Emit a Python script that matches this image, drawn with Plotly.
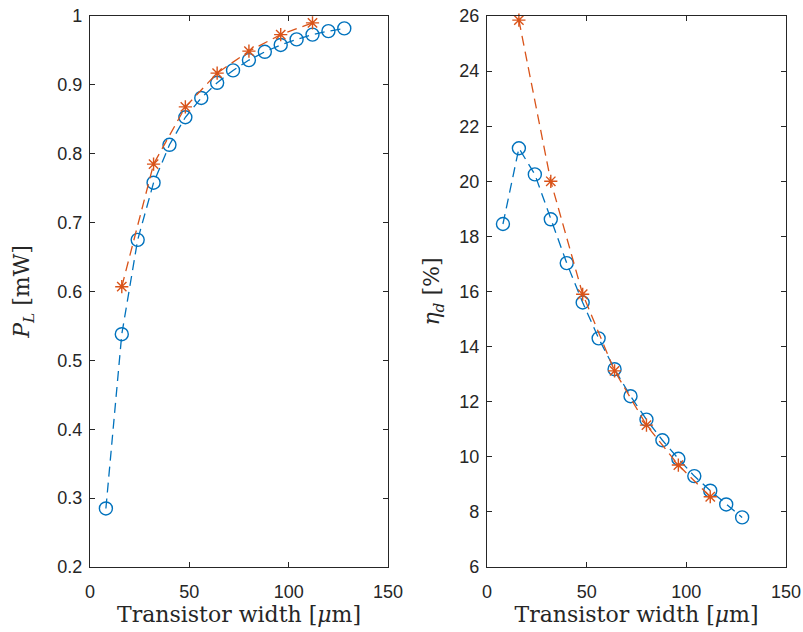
import plotly.graph_objects as go
from plotly.subplots import make_subplots

# Data
width_blue = [8, 16, 24, 32, 40, 48, 56, 64, 72, 80, 88, 96, 104, 112, 120, 128]
pl_blue = [0.285, 0.538, 0.675, 0.758, 0.813, 0.853, 0.881, 0.903, 0.921, 0.936,
           0.948, 0.958, 0.966, 0.973, 0.978, 0.982]
eta_blue = [18.45, 21.2, 20.25, 18.62, 17.03, 15.6, 14.3, 13.18, 12.2, 11.35,
            10.6, 9.93, 9.3, 8.77, 8.27, 7.8]

width_orange = [16, 32, 48, 64, 80, 96, 112]
pl_orange = [0.607, 0.785, 0.868, 0.917, 0.949, 0.973, 0.990]
eta_orange = [25.85, 20.0, 15.9, 13.12, 11.15, 9.7, 8.55]

x_ticks = [0, 50, 100, 150]
pl_ticks = [0.2, 0.3, 0.4, 0.5, 0.6, 0.7, 0.8, 0.9, 1]
pl_ticklabels = ["0.2", "0.3", "0.4", "0.5", "0.6", "0.7", "0.8", "0.9", "1"]
eta_ticks = [6, 8, 10, 12, 14, 16, 18, 20, 22, 24, 26]

BLUE = "#0072BD"
ORANGE = "#D95319"
AXC = "#262626"

fig = make_subplots(rows=1, cols=2)

def add_series(x, y, col, color, symbol, size):
    fig.add_trace(go.Scatter(
        x=x, y=y, mode="lines+markers",
        line=dict(color=color, width=1.3, dash="10px,6px"),
        marker=dict(symbol=symbol, size=size, color=color,
                    line=dict(color=color, width=1.4)),
        showlegend=False, cliponaxis=False), row=1, col=col)

add_series(width_blue, pl_blue, 1, BLUE, "circle-open", 13)
add_series(width_orange, pl_orange, 1, ORANGE, "asterisk-open", 11)
add_series(width_blue, eta_blue, 2, BLUE, "circle-open", 13)
add_series(width_orange, eta_orange, 2, ORANGE, "asterisk-open", 11)

tickfont = dict(family="Liberation Sans, Arial, sans-serif", size=18, color=AXC)
titlefont = dict(family="DejaVu Serif, serif", size=22, color=AXC)

axis_common = dict(
    showgrid=False, zeroline=False, showline=True, linecolor=AXC, linewidth=1.2,
    mirror="ticks", ticks="inside", ticklen=5, tickwidth=1, tickcolor=AXC,
    tickfont=tickfont, automargin=False,
)

fig.update_xaxes(**axis_common, range=[0, 150], tickvals=x_ticks, ticklabelstandoff=8,
                 title=dict(text="Transistor width [<i>μ</i>m]", font=titlefont, standoff=4))
fig.update_xaxes(domain=[90/803, 388/803], row=1, col=1)
fig.update_xaxes(domain=[487/803, 786/803], row=1, col=2)

fig.update_yaxes(**axis_common, ticklabelstandoff=3)
fig.update_yaxes(range=[0.2, 1], tickvals=pl_ticks, ticktext=pl_ticklabels,
                 title=dict(text="<i>P</i><sub><i>L</i></sub> [mW]", font=titlefont, standoff=21),
                 domain=[1 - 567/632, 1 - 16/632], row=1, col=1)
fig.update_yaxes(range=[6, 26], tickvals=eta_ticks,
                 title=dict(text="<i>η</i><sub><i>d</i></sub> [%]", font=titlefont, standoff=13),
                 domain=[1 - 567/632, 1 - 16/632], row=1, col=2)

fig.update_layout(
    width=803, height=632,
    margin=dict(l=0, r=0, t=0, b=0),
    paper_bgcolor="white", plot_bgcolor="white",
)

fig.write_html("out.html")
